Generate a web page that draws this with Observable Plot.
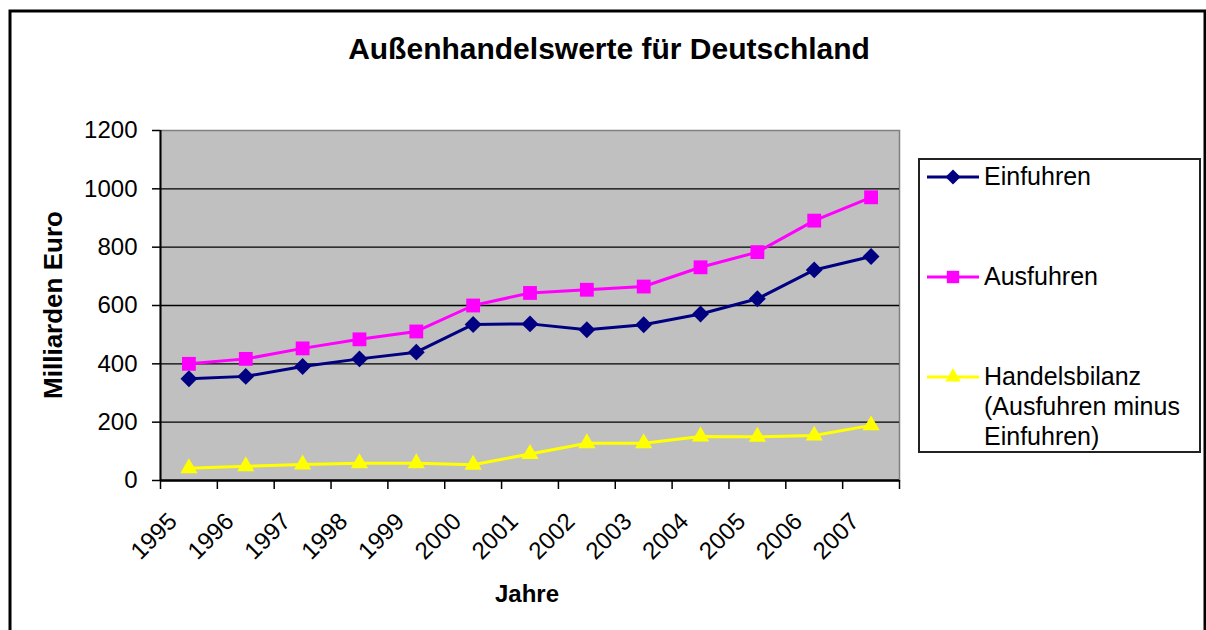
<!DOCTYPE html>
<html>
<head>
<meta charset="utf-8">
<script src="https://cdn.jsdelivr.net/npm/d3@7"></script>
<script src="https://cdn.jsdelivr.net/npm/@observablehq/plot@0.6"></script>
<style>
  body { margin: 0; background: #fff; }
  #wrap { position: relative; width: 1206px; height: 630px; overflow: hidden; background: #fff; }
  #wrap svg { display: block; }
</style>
</head>
<body>
<div id="wrap"></div>
<script>
// ---- data ----
const years = ["1995","1996","1997","1998","1999","2000","2001","2002","2003","2004","2005","2006","2007"];
const einfuhren     = [349, 357, 391, 417, 440, 535, 537, 517, 534, 571, 623, 722, 768];
const ausfuhren     = [400, 417, 453, 484, 511, 600, 643, 654, 665, 731, 783, 891, 971];
const handelsbilanz = [ 42,  49,  55,  59,  59,  54,  91, 128, 128, 151, 150, 154, 189];
const yTicks = [0, 200, 400, 600, 800, 1000, 1200];
const seriesNames = ["Einfuhren", "Ausfuhren", "Handelsbilanz"];
const legendLabels = [["Einfuhren"], ["Ausfuhren"], ["Handelsbilanz", "(Ausfuhren minus", "Einfuhren)"]];
const titleText = "Außenhandelswerte für Deutschland";
const xTitle = "Jahre";
const yTitle = "Milliarden Euro";

// ---- styles ----
const FONT = "'Liberation Sans', Arial, sans-serif";
const colors = ["#000080", "#FF00FF", "#FFFF00"];
const symbols = ["diamond2", "square", "triangle"];
const d3symbols = [d3.symbolDiamond2, d3.symbolSquare, d3.symbolTriangle];
const radii = [7.6, 7.8, 6.4];

const seriesValues = [einfuhren, ausfuhren, handelsbilanz];
const rows = [];
seriesValues.forEach((vals, s) => vals.forEach((v, i) => rows.push({i, year: years[i], series: seriesNames[s], value: v})));

const chart = Plot.plot({
  width: 1206,
  height: 630,
  marginLeft: 160,
  marginRight: 307,
  marginTop: 130,
  marginBottom: 150,
  style: {fontFamily: FONT, fontSize: "24px", color: "#000", background: "transparent", overflow: "visible"},
  x: {type: "linear", domain: [-0.5, years.length - 0.5]},
  y: {domain: [0, 1200]},
  marks: [
    Plot.frame({fill: "#C0C0C0", stroke: "#808080", strokeWidth: 1.5}),
    Plot.gridY(yTicks.filter(t => t > 0 && t < 1200), {stroke: "#000", strokeOpacity: 1, strokeWidth: 1.3}),
    Plot.axisY({ticks: yTicks, tickSize: 8, tickPadding: 15, tickFormat: d => String(d), label: null, fontSize: 24, strokeWidth: 1.5}),
    Plot.axisX({ticks: d3.range(years.length + 1).map(k => k - 0.5), tickSize: 9, tickFormat: () => "", label: null, strokeWidth: 1.5}),
    Plot.axisX({ticks: d3.range(years.length), tickSize: 0, tickFormat: i => years[i], tickRotate: -45,
                tickPadding: 37, dx: -16, textAnchor: "end", lineAnchor: "middle", label: null, fontSize: 24}),
    Plot.ruleX([-0.5], {stroke: "#000", strokeWidth: 2}),
    Plot.ruleY([0], {stroke: "#000", strokeWidth: 2.5}),
    ...seriesNames.map((name, s) => Plot.line(rows.filter(d => d.series === name), {x: "i", y: "value", stroke: colors[s], strokeWidth: 3})),
    ...seriesNames.map((name, s) => Plot.dot(rows.filter(d => d.series === name), {x: "i", y: "value", fill: colors[s], stroke: "none", symbol: symbols[s], r: radii[s]}))
  ]
});

document.getElementById("wrap").appendChild(chart);

// ---- overlay: frame, titles, legend ----
const svg = d3.select(chart);
const ov = svg.append("g").attr("font-family", FONT).attr("fill", "#000").attr("text-anchor", "start");

ov.append("rect").attr("x", 10).attr("y", 11).attr("width", 1195).attr("height", 700)
  .attr("fill", "none").attr("stroke", "#000").attr("stroke-width", 3);

ov.append("text").attr("x", 609).attr("y", 59).attr("text-anchor", "middle")
  .attr("font-weight", "bold").attr("font-size", 30).text(titleText);

ov.append("text").attr("x", 527).attr("y", 602).attr("text-anchor", "middle")
  .attr("font-weight", "bold").attr("font-size", 24).text(xTitle);

ov.append("text").attr("transform", "translate(62,305) rotate(-90)").attr("text-anchor", "middle")
  .attr("font-weight", "bold").attr("font-size", 26).text(yTitle);

const lg = ov.append("g");
lg.append("rect").attr("x", 919).attr("y", 159).attr("width", 281).attr("height", 293)
  .attr("fill", "#fff").attr("stroke", "#222").attr("stroke-width", 2);

seriesNames.forEach((name, s) => {
  const cy = 177 + s * 100;
  lg.append("line").attr("x1", 927).attr("x2", 979).attr("y1", cy).attr("y2", cy)
    .attr("stroke", colors[s]).attr("stroke-width", 3);
  lg.append("path").attr("transform", `translate(953,${cy})`)
    .attr("d", d3.symbol(d3symbols[s], Math.PI * radii[s] * radii[s] * 0.8)())
    .attr("fill", colors[s]);
  legendLabels[s].forEach((line, k) => {
    lg.append("text").attr("x", 984).attr("y", cy + 8 + k * 30).attr("font-size", 25)
      .attr("text-anchor", "start").text(line);
  });
});
</script>
</body>
</html>
